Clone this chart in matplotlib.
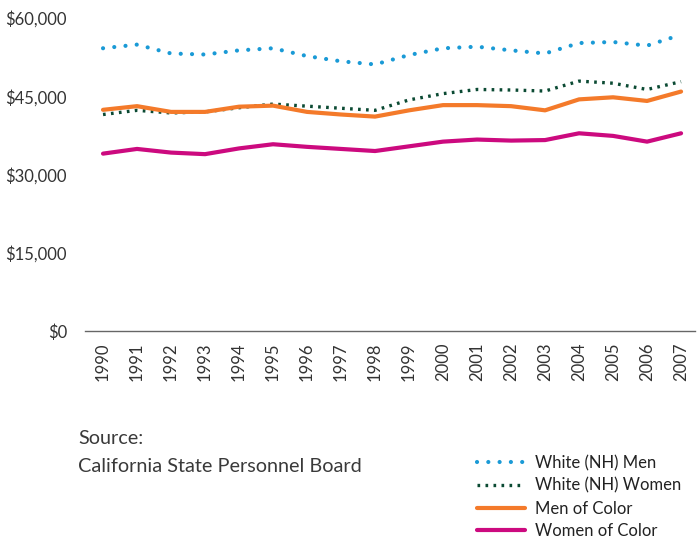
import matplotlib
matplotlib.use("Agg")
import matplotlib.pyplot as plt
from matplotlib.ticker import FuncFormatter

plt.rcParams['font.family'] = ['Lato', 'DejaVu Sans']

years = list(range(1990, 2008))
white_men = [54.2, 54.9, 53.2, 53.0, 53.8, 54.2, 52.7, 51.7, 51.1, 52.9, 54.2, 54.5,
             53.8, 53.2, 55.2, 55.4, 54.7, 56.8]
white_women = [41.5, 42.3, 41.8, 42.0, 42.8, 43.5, 43.1, 42.7, 42.3, 44.3, 45.5, 46.3,
               46.2, 46.0, 47.9, 47.5, 46.3, 47.8]
men_color = [42.4, 43.1, 42.0, 42.0, 43.0, 43.2, 42.0, 41.5, 41.1, 42.3, 43.3, 43.3,
             43.1, 42.3, 44.4, 44.8, 44.1, 45.9]
women_color = [34.0, 34.9, 34.2, 33.9, 35.0, 35.8, 35.3, 34.9, 34.5, 35.4, 36.3, 36.7,
               36.5, 36.6, 37.9, 37.4, 36.3, 37.9]
series_names = ["White (NH) Men", "White (NH) Women", "Men of Color", "Women of Color"]
y_ticks = [0, 15000, 30000, 45000, 60000]

text_color = "#333333"

fig = plt.figure(figsize=(6.99, 5.38), dpi=100)
ax = fig.add_axes([85/699, 1-331/538, (695-85)/699, (331-18)/538])

k = 1000
ax.plot(years, [v*k for v in white_men], color="#1a9ad6", lw=3.0,
        linestyle=(0, (0.01, 2.7)), dash_capstyle='round', label=series_names[0])
ax.plot(years, [v*k for v in white_women], color="#0b4a33", lw=2.4,
        linestyle=(0, (0.8, 1.6)), dash_capstyle='butt', label=series_names[1])
ax.plot(years, [v*k for v in men_color], color="#f47a2a", lw=3.0,
        solid_capstyle='round', label=series_names[2])
ax.plot(years, [v*k for v in women_color], color="#cc0a7f", lw=3.0,
        solid_capstyle='round', label=series_names[3])

ax.set_xlim(1989.47, 2007.41)
ax.set_ylim(0, 60000)
ax.set_yticks(y_ticks)
ax.yaxis.set_major_formatter(FuncFormatter(lambda v, p: "${:,.0f}".format(v)))
ax.set_xticks(years)
ax.set_xticklabels([str(y) for y in years], rotation=90)
for s in ["top", "right", "left"]:
    ax.spines[s].set_visible(False)
ax.spines["bottom"].set_color("#666666")
ax.spines["bottom"].set_linewidth(1.0)
ax.tick_params(axis='both', length=0, labelsize=12, colors=text_color)
ax.tick_params(axis='y', pad=13)
ax.tick_params(axis='x', pad=8)
for ln in ax.lines:
    ln.set_clip_on(False)

fig.text(78/699, 1-438/538, "Source:", fontsize=14.3,
         color="#3a3a3a", va='center', ha='left')
fig.text(78/699, 1-466/538, "California State Personnel Board", fontsize=14.3,
         color="#3a3a3a", va='center', ha='left')

leg = fig.legend(loc='upper left', bbox_to_anchor=(477/699, 1-455/538), frameon=False,
                 fontsize=12, handlelength=2.9, handletextpad=0.6, labelspacing=0.4,
                 borderaxespad=0, borderpad=0)
for t in leg.get_texts():
    t.set_color("#222222")

fig.savefig("out.png", dpi=100)
